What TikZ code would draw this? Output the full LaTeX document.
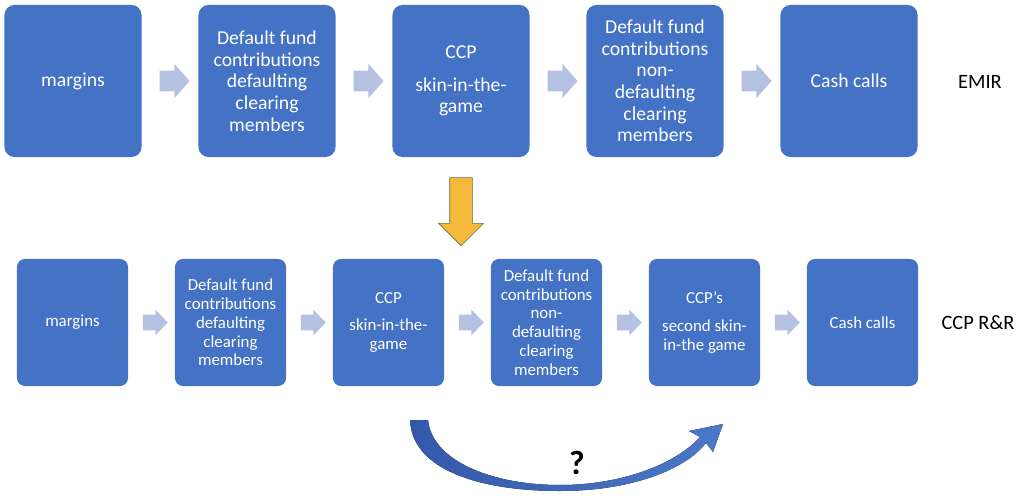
\documentclass[tikz,border=0pt]{standalone}
\usepackage{fontspec}
\setmainfont{Carlito}
\usepackage{tikz}
\usetikzlibrary{calc}
\usetikzlibrary{shapes.arrows}
\usetikzlibrary{positioning}

\definecolor{boxblue}{RGB}{68,114,196}
\definecolor{steparrow}{RGB}{180,193,225}
\definecolor{downgold}{RGB}{245,186,60}
\definecolor{downedge}{RGB}{120,100,70}
\definecolor{curvedark}{RGB}{52,88,170}
\definecolor{curvelight}{RGB}{76,120,200}

\begin{document}
\begin{tikzpicture}[x=0.025cm, y=-0.025cm,
    topbox/.style={fill=boxblue, text=white, rounded corners=0.25cm, inner sep=0pt,
        minimum width=3.425cm, minimum height=3.8cm, align=center,
        font=\fontsize{14}{15.4}\selectfont},
    lowbox/.style={fill=boxblue, text=white, rounded corners=0.2cm, inner sep=0pt,
        minimum width=2.775cm, minimum height=3.175cm, align=center,
        font=\fontsize{12}{13.4}\selectfont},
    toparrow/.style={single arrow, fill=steparrow, inner xsep=0pt, inner ysep=0.25cm,
        minimum height=0.75cm, single arrow head extend=0.175cm, single arrow tip angle=97},
    lowarrow/.style={single arrow, fill=steparrow, inner xsep=0pt, inner ysep=0.1875cm,
        minimum height=0.625cm, single arrow head extend=0.125cm, single arrow tip angle=92},
    rowlabel/.style={font=\fontsize{14.5}{17}\selectfont}]

    \useasboundingbox (0,0) rectangle (1024,499);

    % EMIR row
    \draw (73,81)  node[topbox] (e1) {margins};
    \draw (267,81) node[topbox] (e2) {Default fund\\contributions\\defaulting\\clearing\\members};
    \draw (461,81) node[topbox] (e3) {CCP\\[8pt]skin-in-the-\\game};
    \draw (655,81) node[topbox] (e4) {Default fund\\contributions\\non-\\defaulting\\clearing\\members};
    \draw (849,81) node[topbox] (e5) {Cash calls};
    \draw (980,82) node[rowlabel] (emir) {EMIR};

    \node[toparrow] (ea1) at ($(e1.east)!0.5!(e2.west)$) {};
    \node[toparrow] (ea2) at ($(e2.east)!0.5!(e3.west)$) {};
    \node[toparrow] (ea3) at ($(e3.east)!0.5!(e4.west)$) {};
    \node[toparrow] (ea4) at ($(e4.east)!0.5!(e5.west)$) {};

    % from EMIR to CCP R&R
    \draw (461,206) node[single arrow, rotate=-90, fill=downgold, draw=downedge,
        line width=0.4pt, inner xsep=0pt, inner ysep=0.275cm, minimum height=1.7cm,
        single arrow head extend=0.275cm] (down) {};

    % CCP R&R row
    \draw (72.5,322.5)  node[lowbox] (r1) {margins};
    \draw (230.5,322.5) node[lowbox] (r2) {Default fund\\contributions\\defaulting\\clearing\\members};
    \draw (388.5,322.5) node[lowbox] (r3) {CCP\\[6pt]skin-in-the-\\game};
    \draw (546.5,322.5) node[lowbox] (r4) {Default fund\\contributions\\non-\\defaulting\\clearing\\members};
    \draw (704.5,322.5) node[lowbox] (r5) {CCP’s\\[6pt]second skin-\\in-the game};
    \draw (862.5,322.5) node[lowbox] (r6) {Cash calls};
    \draw (978,323) node[rowlabel] (rr) {CCP R\&R};

    \node[lowarrow] (ra1) at ($(r1.east)!0.5!(r2.west)$) {};
    \node[lowarrow] (ra2) at ($(r2.east)!0.5!(r3.west)$) {};
    \node[lowarrow] (ra3) at ($(r3.east)!0.5!(r4.west)$) {};
    \node[lowarrow] (ra4) at ($(r4.east)!0.5!(r5.west)$) {};
    \node[lowarrow] (ra5) at ($(r5.east)!0.5!(r6.west)$) {};

    % skipping arrow under the row
    \fill[left color=curvedark, right color=curvelight]
        (410,420) .. controls (412,470) and (480,491) .. (560,491)
        .. controls (630,491) and (685,470) .. (706,443)
        -- (713,452) -- (723,424) -- (689,431) -- (700,437)
        .. controls (678,462) and (625,485) .. (560,485)
        .. controls (490,485) and (432,460) .. (428,420) -- cycle;
    \draw (577,463) node[font=\fontsize{24}{28}\selectfont\bfseries] (q) {?};

\end{tikzpicture}
\end{document}
